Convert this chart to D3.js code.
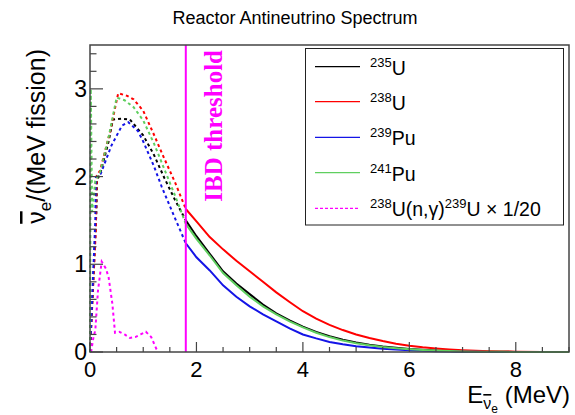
<!DOCTYPE html>
<html>
<head>
<meta charset="utf-8">
<script src="https://cdn.jsdelivr.net/npm/d3@7"></script>
<style>
  html, body { margin: 0; padding: 0; background: #fff; }
  svg { display: block; font-family: "Liberation Sans", Arial, Helvetica, sans-serif; }
</style>
</head>
<body>
<svg id="chart" width="575" height="415"></svg>
<script>
// ---------- data ----------
const xTicks = [0, 2, 4, 6, 8];
const yTicks = [0, 1, 2, 3];
const threshold = 1.8;

// solid part (above IBD threshold)
const eHigh = [1.8, 2.0, 2.25, 2.5, 2.75, 3.0, 3.25, 3.5, 3.75, 4.0, 4.25, 4.5, 4.75, 5.0, 5.25, 5.5, 5.75, 6.0, 6.25, 6.5, 6.75, 7.0, 7.25, 7.5, 7.75, 8.0, 8.5, 9.0];
const u235High = [1.50, 1.32, 1.12, 0.92, 0.78, 0.66, 0.54, 0.44, 0.36, 0.29, 0.23, 0.18, 0.14, 0.108, 0.083, 0.063, 0.048, 0.035, 0.026, 0.018, 0.012, 0.008, 0.005, 0.003, 0.002, 0.001, 0.0003, 0];
const u238High = [1.63, 1.49, 1.31, 1.17, 1.04, 0.92, 0.80, 0.68, 0.57, 0.465, 0.38, 0.31, 0.25, 0.20, 0.16, 0.125, 0.095, 0.07, 0.053, 0.04, 0.029, 0.02, 0.014, 0.009, 0.006, 0.003, 0.001, 0];
const pu239High = [1.24, 1.08, 0.93, 0.76, 0.63, 0.52, 0.43, 0.35, 0.27, 0.20, 0.155, 0.115, 0.088, 0.066, 0.05, 0.037, 0.028, 0.02, 0.014, 0.009, 0.006, 0.0035, 0.002, 0.0012, 0.0008, 0.0004, 0.0001, 0];
const pu241High = [1.46, 1.29, 1.10, 0.90, 0.76, 0.63, 0.52, 0.43, 0.35, 0.28, 0.22, 0.17, 0.13, 0.1, 0.077, 0.058, 0.044, 0.032, 0.023, 0.016, 0.011, 0.007, 0.0042, 0.0025, 0.0015, 0.0008, 0.0002, 0];

// dashed part (below IBD threshold)
const u235LowE = [0, 0.12, 0.13, 0.2, 0.35, 0.43, 0.6, 0.75, 1.0, 1.2, 1.4, 1.6, 1.8];
const u235Low  = [0, 1.6, 1.95, 2.05, 2.4, 2.65, 2.66, 2.65, 2.47, 2.25, 1.98, 1.73, 1.50];
const u238LowE = [0, 0.11, 0.126, 0.19, 0.38, 0.53, 0.7, 0.82, 1.0, 1.2, 1.4, 1.6, 1.8];
const u238Low  = [0, 1.4, 2.01, 2.07, 2.52, 2.95, 2.92, 2.88, 2.75, 2.48, 2.2, 1.93, 1.63];
const pu239LowE = [0, 0.1, 0.11, 0.2, 0.4, 0.6, 0.72, 0.9, 1.0, 1.2, 1.35, 1.6, 1.8];
const pu239Low  = [0, 1.5, 1.99, 2.03, 2.35, 2.58, 2.62, 2.52, 2.4, 2.12, 1.88, 1.52, 1.24];
const pu241LowE = [0, 0.015, 0.04, 0.1, 0.19, 0.35, 0.5, 0.65, 0.82, 1.0, 1.2, 1.4, 1.6, 1.8];
const pu241Low  = [0, 3.0, 1.6, 1.95, 2.05, 2.45, 2.9, 2.87, 2.79, 2.64, 2.38, 2.08, 1.78, 1.46];

// 238U(n,gamma)239U x 1/20
const ngE = [0.02, 0.06, 0.1, 0.15, 0.22, 0.3, 0.35, 0.42, 0.47, 0.55, 0.65, 0.75, 0.85, 0.95, 1.05, 1.15, 1.25, 1.28];
const ngV = [0, 0.15, 0.25, 0.7, 1.03, 0.95, 0.85, 0.55, 0.22, 0.23, 0.2, 0.16, 0.17, 0.2, 0.23, 0.17, 0.03, 0];

const seriesColors = ["#000000", "#ff0000", "#1414e6", "#5fcf5f"];
const ngColor = "#ff00ff";

// ---------- layout ----------
const svg = d3.select("#chart");
const L = 90, R = 569, T = 45, B = 352;
const x = d3.scaleLinear().domain([0, 9]).range([L, R]);
const y = d3.scaleLinear().domain([0, 3.5]).range([B, T]);

const line = d3.line().x(d => x(d[0])).y(d => y(d[1]));
const zipPts = (xs, ys) => xs.map((v, i) => [v, ys[i]]);

const lows = [zipPts(u235LowE, u235Low), zipPts(u238LowE, u238Low), zipPts(pu239LowE, pu239Low), zipPts(pu241LowE, pu241Low)];
const highs = [zipPts(eHigh, u235High), zipPts(eHigh, u238High), zipPts(eHigh, pu239High), zipPts(eHigh, pu241High)];

const plot = svg.append("g");
lows.forEach((pts, i) => {
  plot.append("path").attr("d", line(pts)).attr("fill", "none")
    .attr("stroke", seriesColors[i]).attr("stroke-width", 2).attr("stroke-dasharray", "3,3");
});
plot.append("path").attr("d", line(zipPts(ngE, ngV))).attr("fill", "none")
  .attr("stroke", ngColor).attr("stroke-width", 2).attr("stroke-dasharray", "3,3");
highs.forEach((pts, i) => {
  plot.append("path").attr("d", line(pts)).attr("fill", "none")
    .attr("stroke", seriesColors[i]).attr("stroke-width", 2);
});

// threshold line
svg.append("line").attr("x1", x(threshold)).attr("x2", x(threshold))
  .attr("y1", y(0)).attr("y2", y(3.5)).attr("stroke", ngColor).attr("stroke-width", 2);
svg.append("text")
  .attr("transform", `translate(${x(threshold) + 36},${y(3.5) + 5}) rotate(-90)`)
  .attr("text-anchor", "end")
  .attr("font-family", "'Liberation Serif', 'Times New Roman', serif")
  .attr("font-weight", "bold").attr("font-size", 25).attr("fill", ngColor)
  .text("IBD threshold");

// frame
svg.append("rect").attr("x", L).attr("y", T).attr("width", R - L).attr("height", B - T)
  .attr("fill", "none").attr("stroke", "#444").attr("stroke-width", 1.5);

// x axis ticks
d3.range(0, 9.01, 0.5).forEach(v => {
  const major = xTicks.includes(v);
  svg.append("line").attr("x1", x(v)).attr("x2", x(v)).attr("y1", B).attr("y2", B - (major ? 10 : 5))
    .attr("stroke", "#444").attr("stroke-width", 1.2);
});
xTicks.forEach(v => {
  svg.append("text").attr("x", x(v)).attr("y", 377).attr("text-anchor", "middle")
    .attr("font-size", 22).text(v);
});

// y axis ticks
d3.range(0, 3.501, 0.2).forEach(v => {
  const vv = Math.round(v * 10) / 10;
  const major = yTicks.includes(vv);
  svg.append("line").attr("x1", L).attr("x2", L + (major ? 13 : 6.5)).attr("y1", y(vv)).attr("y2", y(vv))
    .attr("stroke", "#444").attr("stroke-width", 1.2);
});
yTicks.forEach(v => {
  svg.append("text").attr("x", 87).attr("y", y(v) + 8).attr("text-anchor", "end")
    .attr("font-size", 23).text(v);
});

// title
svg.append("text").attr("x", 295).attr("y", 24).attr("text-anchor", "middle")
  .attr("font-size", 18).text("Reactor Antineutrino Spectrum");

// y title
const yt = svg.append("text").attr("transform", `translate(45,${T + 4}) rotate(-90)`)
  .attr("text-anchor", "end").attr("font-size", 25);
yt.append("tspan").style("text-decoration", "overline").text("ν");
yt.append("tspan").attr("font-size", 17).attr("dy", 6).text("e");
yt.append("tspan").attr("dy", -6).text("/(MeV fission)");

// x title
const xt = svg.append("text").attr("x", R + 1).attr("y", 403).attr("text-anchor", "end").attr("font-size", 24);
xt.append("tspan").text("E");
xt.append("tspan").attr("font-size", 16).attr("dy", 6).style("text-decoration", "overline").text("ν");
xt.append("tspan").attr("font-size", 12).attr("dy", 4).text("e");
xt.append("tspan").attr("dy", -10).text("  (MeV)");

// legend
const lg = svg.append("g");
lg.append("rect").attr("x", 305.5).attr("y", 48.5).attr("width", 258).attr("height", 176.5)
  .attr("fill", "#fff").attr("stroke", "#222").attr("stroke-width", 1);
const rowY = [66.7, 101.7, 137.3, 172.7, 208.3];
const legLabels = [["235", "U"], ["238", "U"], ["239", "Pu"], ["241", "Pu"]];
legLabels.forEach((lab, i) => {
  lg.append("line").attr("x1", 315).attr("x2", 360).attr("y1", rowY[i]).attr("y2", rowY[i])
    .attr("stroke", seriesColors[i]).attr("stroke-width", 1.2);
  const t = lg.append("text").attr("x", 370).attr("y", rowY[i] + 8).attr("font-size", 19.5);
  t.append("tspan").attr("font-size", 13).attr("dy", -8).text(lab[0]);
  t.append("tspan").attr("dy", 8).text(lab[1]);
});
lg.append("line").attr("x1", 315).attr("x2", 360).attr("y1", rowY[4]).attr("y2", rowY[4])
  .attr("stroke", ngColor).attr("stroke-width", 1.2).attr("stroke-dasharray", "3,2");
const t5 = lg.append("text").attr("x", 370).attr("y", rowY[4] + 8).attr("font-size", 19.5);
t5.append("tspan").attr("font-size", 13).attr("dy", -8).text("238");
t5.append("tspan").attr("dy", 8).text("U(n,γ)");
t5.append("tspan").attr("font-size", 13).attr("dy", -8).text("239");
t5.append("tspan").attr("dy", 8).text("U × 1/20");
</script>
</body>
</html>
